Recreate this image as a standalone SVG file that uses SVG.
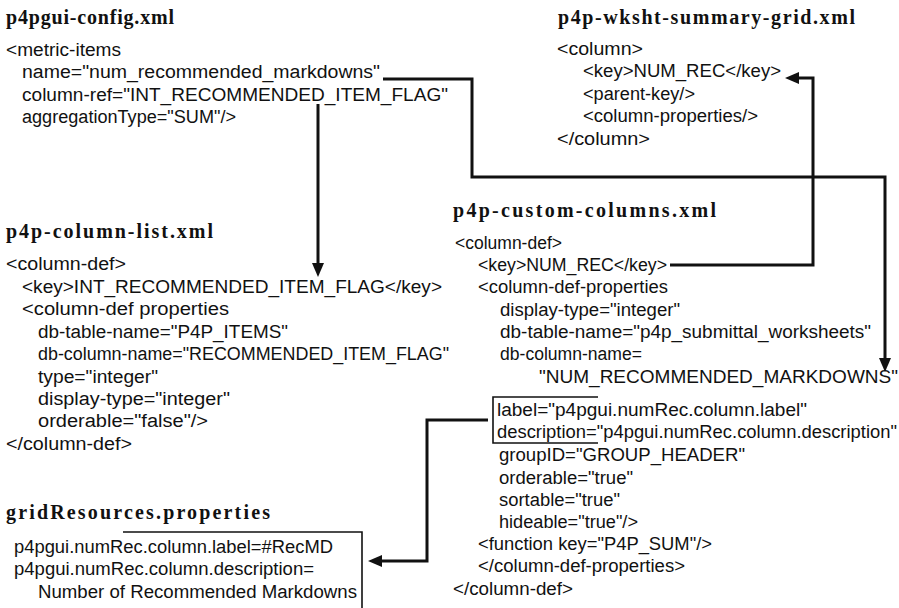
<svg xmlns="http://www.w3.org/2000/svg" width="899" height="608" viewBox="0 0 899 608">
  <style>
    .title { font-family: "Liberation Serif", "Times New Roman", serif; font-weight: bold; font-size: 20px; fill: #111; }
    .code { font-family: "Liberation Sans", Arial, sans-serif; font-size: 18px; fill: #111; }
    .wire { fill: none; stroke: #111; stroke-width: 3; }
    .frame { fill: none; stroke: #111; stroke-width: 1.6; }
  </style>
  <defs>
    <marker id="arrow" viewBox="0 0 14 12" markerWidth="14" markerHeight="12" markerUnits="userSpaceOnUse" refX="4" refY="6" orient="auto">
      <path d="M0,0 L14,6 L0,12 Z" fill="#111"/>
    </marker>
  </defs>
  <rect width="899" height="608" fill="#ffffff"/>

  <!-- p4pgui-config.xml -->
  <g id="p4pgui-config">
    <text class="title" x="6" y="24" textLength="168" lengthAdjust="spacing">p4pgui-config.xml</text>
    <text class="code" x="6" y="56" textLength="115" lengthAdjust="spacingAndGlyphs">&lt;metric-items</text>
    <text class="code" x="22" y="78" textLength="358" lengthAdjust="spacingAndGlyphs">name="num_recommended_markdowns"</text>
    <text class="code" x="22" y="101" textLength="426" lengthAdjust="spacingAndGlyphs">column-ref="INT_RECOMMENDED_ITEM_FLAG"</text>
    <text class="code" x="22" y="123" textLength="214" lengthAdjust="spacingAndGlyphs">aggregationType="SUM"/&gt;</text>
  </g>

  <!-- p4p-wksht-summary-grid.xml -->
  <g id="p4p-wksht-summary-grid">
    <text class="title" x="558" y="24" textLength="297" lengthAdjust="spacing">p4p-wksht-summary-grid.xml</text>
    <text class="code" x="557" y="55" textLength="86" lengthAdjust="spacingAndGlyphs">&lt;column&gt;</text>
    <text class="code" x="583" y="77" textLength="198" lengthAdjust="spacingAndGlyphs">&lt;key&gt;NUM_REC&lt;/key&gt;</text>
    <text class="code" x="583" y="100" textLength="112" lengthAdjust="spacingAndGlyphs">&lt;parent-key/&gt;</text>
    <text class="code" x="583" y="122" textLength="175" lengthAdjust="spacingAndGlyphs">&lt;column-properties/&gt;</text>
    <text class="code" x="557" y="145" textLength="93" lengthAdjust="spacingAndGlyphs">&lt;/column&gt;</text>
  </g>

  <!-- p4p-column-list.xml -->
  <g id="p4p-column-list">
    <text class="title" x="6" y="238" textLength="207" lengthAdjust="spacing">p4p-column-list.xml</text>
    <text class="code" x="6" y="270" textLength="120" lengthAdjust="spacingAndGlyphs">&lt;column-def&gt;</text>
    <text class="code" x="22" y="293" textLength="420" lengthAdjust="spacingAndGlyphs">&lt;key&gt;INT_RECOMMENDED_ITEM_FLAG&lt;/key&gt;</text>
    <text class="code" x="22" y="315" textLength="207" lengthAdjust="spacingAndGlyphs">&lt;column-def properties</text>
    <text class="code" x="38" y="338" textLength="250" lengthAdjust="spacingAndGlyphs">db-table-name="P4P_ITEMS"</text>
    <text class="code" x="38" y="360" textLength="411" lengthAdjust="spacingAndGlyphs">db-column-name="RECOMMENDED_ITEM_FLAG"</text>
    <text class="code" x="38" y="383" textLength="120" lengthAdjust="spacingAndGlyphs">type="integer"</text>
    <text class="code" x="38" y="405" textLength="192" lengthAdjust="spacingAndGlyphs">display-type="integer"</text>
    <text class="code" x="38" y="427" textLength="170" lengthAdjust="spacingAndGlyphs">orderable="false"/&gt;</text>
    <text class="code" x="6" y="450" textLength="126" lengthAdjust="spacingAndGlyphs">&lt;/column-def&gt;</text>
  </g>

  <!-- gridResources.properties -->
  <g id="gridResources">
    <text class="title" x="6" y="519" textLength="264" lengthAdjust="spacing">gridResources.properties</text>
    <path class="frame" d="M123,532 H362 V608"/>
    <text class="code" x="14" y="553" textLength="319" lengthAdjust="spacingAndGlyphs">p4pgui.numRec.column.label=#RecMD</text>
    <text class="code" x="14" y="575" textLength="300" lengthAdjust="spacingAndGlyphs">p4pgui.numRec.column.description=</text>
    <text class="code" x="38" y="598" textLength="319" lengthAdjust="spacingAndGlyphs">Number of Recommended Markdowns</text>
  </g>

  <!-- p4p-custom-columns.xml -->
  <g id="p4p-custom-columns">
    <text class="title" x="453" y="217" textLength="263" lengthAdjust="spacing">p4p-custom-columns.xml</text>
    <text class="code" x="455" y="249" textLength="107" lengthAdjust="spacingAndGlyphs">&lt;column-def&gt;</text>
    <text class="code" x="478" y="271" textLength="189" lengthAdjust="spacingAndGlyphs">&lt;key&gt;NUM_REC&lt;/key&gt;</text>
    <text class="code" x="478" y="293" textLength="190" lengthAdjust="spacingAndGlyphs">&lt;column-def-properties</text>
    <text class="code" x="500" y="316" textLength="180" lengthAdjust="spacingAndGlyphs">display-type="integer"</text>
    <text class="code" x="500" y="338" textLength="371" lengthAdjust="spacingAndGlyphs">db-table-name="p4p_submittal_worksheets"</text>
    <text class="code" x="500" y="360" textLength="142" lengthAdjust="spacingAndGlyphs">db-column-name=</text>
    <text class="code" x="539" y="383" textLength="359" lengthAdjust="spacingAndGlyphs">"NUM_RECOMMENDED_MARKDOWNS"</text>
    <path class="frame" d="M598,397 H493 V443 H598"/>
    <text class="code" x="497" y="416" textLength="310" lengthAdjust="spacingAndGlyphs">label="p4pgui.numRec.column.label"</text>
    <text class="code" x="497" y="438" textLength="400" lengthAdjust="spacingAndGlyphs">description="p4pgui.numRec.column.description"</text>
    <text class="code" x="499" y="461" textLength="246" lengthAdjust="spacingAndGlyphs">groupID="GROUP_HEADER"</text>
    <text class="code" x="499" y="484" textLength="134" lengthAdjust="spacingAndGlyphs">orderable="true"</text>
    <text class="code" x="499" y="506" textLength="121" lengthAdjust="spacingAndGlyphs">sortable="true"</text>
    <text class="code" x="499" y="528" textLength="139" lengthAdjust="spacingAndGlyphs">hideable="true"/&gt;</text>
    <text class="code" x="478" y="550" textLength="234" lengthAdjust="spacingAndGlyphs">&lt;function key="P4P_SUM"/&gt;</text>
    <text class="code" x="478" y="572" textLength="207" lengthAdjust="spacingAndGlyphs">&lt;/column-def-properties&gt;</text>
    <text class="code" x="453" y="595" textLength="120" lengthAdjust="spacingAndGlyphs">&lt;/column-def&gt;</text>
  </g>

  <!-- reference links between the files -->
  <g id="connectors">
    <path class="wire" d="M383,79 H472 V177 H885 V362" marker-end="url(#arrow)"/>
    <path class="wire" d="M318,104 V267" marker-end="url(#arrow)"/>
    <path class="wire" d="M670,265 H813 V78 H795" marker-end="url(#arrow)"/>
    <path class="wire" d="M488,420 H427 V561 H378" marker-end="url(#arrow)"/>
  </g>
</svg>
